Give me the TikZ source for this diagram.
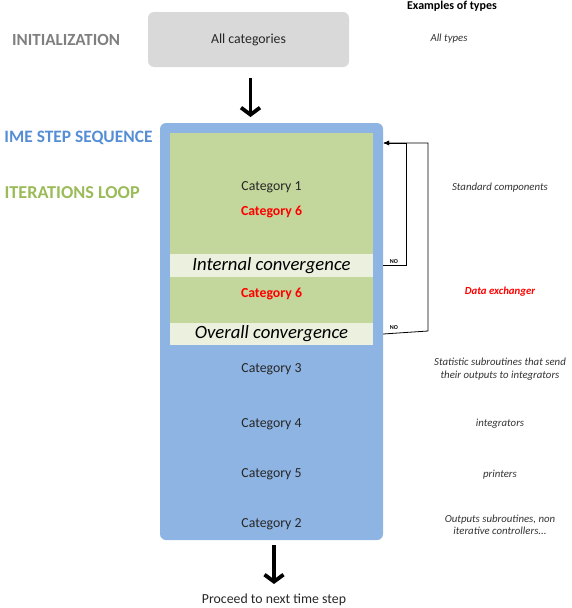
\documentclass[tikz,border=0pt]{standalone}
\usepackage{fontspec}
\setmainfont{Carlito}
\usetikzlibrary{arrows.meta}
\definecolor{boxgray}{HTML}{D9D9D9}
\definecolor{seqblue}{HTML}{8EB4E3}
\definecolor{loopgreen}{HTML}{C3D69B}
\definecolor{bandgreen}{HTML}{EBF1DE}
\definecolor{initgray}{HTML}{7F7F7F}
\definecolor{titleblue}{HTML}{558ED5}
\definecolor{titlegreen}{HTML}{9BBB59}
\definecolor{catred}{HTML}{FF0000}
\tikzset{
  area/.style={rectangle, inner sep=0pt, draw=none},
  cat/.style={font=\fontsize{13.8}{15}\selectfont, text=black!85},
  redcat/.style={font=\fontsize{13.8}{15}\selectfont\bfseries, text=catred},
  conv/.style={font=\fontsize{18.7}{20}\selectfont\itshape},
  note/.style={font=\fontsize{10.8}{12.5}\selectfont\itshape, text=black!80, align=center},
  heading/.style={font=\fontsize{18.2}{20}\selectfont\bfseries},
  bigarrow/.style={line width=3.8pt, -{Straight Barb[length=7pt,width=19pt]}},
  loopline/.style={line width=0.8pt, -{Latex[length=6pt,width=5pt]}},
  nolabel/.style={font=\fontsize{6}{7}\selectfont\bfseries, inner sep=1pt}
}
\begin{document}
\begin{tikzpicture}[x=1pt,y=-1pt]
\useasboundingbox (0,0) rectangle (571,608);
\clip (0,0) rectangle (571,608);
% initialization
\node[area, fill=boxgray, rounded corners=6pt, minimum width=201pt, minimum height=55pt] (init) at (248.5,39.5) {};
\node[cat] (initlbl) at (init.center) {All categories};
\node[heading, font=\fontsize{17}{19}\selectfont\bfseries, text=initgray] (inittitle) at (66,40) {INITIALIZATION};
% time step sequence box
\node[area, fill=seqblue, rounded corners=6pt, minimum width=223pt, minimum height=417pt] (seq) at (271.5,331.5) {};
\node[area, fill=loopgreen, minimum width=203pt, minimum height=121pt] (g1) at (271.5,193.5) {};
\node[area, fill=bandgreen, minimum width=203pt, minimum height=23pt] (b1) at (271.5,265.5) {};
\node[area, fill=loopgreen, minimum width=203pt, minimum height=46pt] (g2) at (271.5,300) {};
\node[area, fill=bandgreen, minimum width=203pt, minimum height=22pt] (b2) at (271.5,334) {};
% titles
\node[heading, font=\fontsize{17.4}{19}\selectfont\bfseries, text=titleblue, anchor=east] (seqtitle) at (156,138) {IME STEP SEQUENCE};
\node[heading, text=titlegreen, anchor=west] (looptitle) at (1,193) {ITERATIONS LOOP};
\node[font=\fontsize{12}{14}\selectfont\bfseries] (examples) at (452,6) {Examples of types};
% categories
\node[cat] (c1) at (271.5,187) {Category 1};
\node[redcat] (c6a) at (271.5,212) {Category 6};
\node[conv] (ic) at (271.5,265.5) {Internal convergence};
\node[redcat] (c6b) at (271.5,294) {Category 6};
\node[conv] (oc) at (271.5,333.5) {Overall convergence};
\node[cat] (c3) at (271.5,369) {Category 3};
\node[cat] (c4) at (271.5,424) {Category 4};
\node[cat] (c5) at (271.5,474) {Category 5};
\node[cat] (c2) at (271.5,524) {Category 2};
% notes
\node[note] (n0) at (449,39) {All types};
\node[note] (n1) at (500,188) {Standard components};
\node[note, font=\fontsize{10.8}{12.5}\selectfont\itshape\bfseries, text=catred] (n6) at (500,292) {Data exchanger};
\node[note] (n3) at (500,369) {Statistic subroutines that send\\their outputs to integrators};
\node[note] (n4) at (500,424) {integrators};
\node[note] (n5) at (500,475) {printers};
\node[note] (n2) at (500,525) {Outputs subroutines, non\\iterative controllers...};
% arrows
\node[cat] (next) at (274,600) {Proceed to next time step};
\draw[bigarrow] (init.south -| 250.5,0) ++(0,11) -- (250.5,117);
\draw[bigarrow] (274,545) -- (274,584);
% loops
\coordinate (ret) at (seq.east |- 0,143);
\draw[loopline] (b1.east -| seq.east) -- (406,265.5) |- (ret);
\draw[loopline] (b2.east -| seq.east) -- (428,331) |- (ret);
\node[nolabel, anchor=south] (no1) at (394,265) {NO};
\node[nolabel, anchor=south] (no2) at (394,331) {NO};
\end{tikzpicture}
\end{document}
